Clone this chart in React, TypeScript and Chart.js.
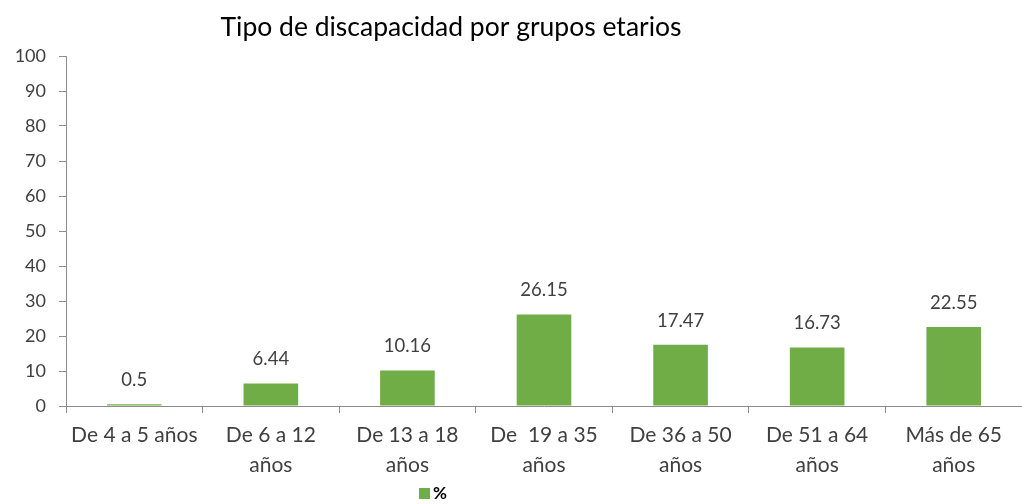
import React, { useEffect, useRef } from "react";
import { Chart, registerables } from "chart.js";

Chart.register(...registerables);

const TITLE = "Tipo de discapacidad por grupos etarios";
const CATEGORIES: (string | string[])[] = [
  "De 4 a 5 años",
  ["De 6 a 12", "años"],
  ["De 13 a 18", "años"],
  ["De  19 a 35", "años"],
  ["De 36 a 50", "años"],
  ["De 51 a 64", "años"],
  ["Más de 65", "años"],
];
const SERIES_NAME = "%";
const VALUES = [0.5, 6.44, 10.16, 26.15, 17.47, 16.73, 22.55];
const VALUE_LABELS = ["0.5", "6.44", "10.16", "26.15", "17.47", "16.73", "22.55"];

const FONT = "Lato, 'Open Sans', sans-serif";
const BAR_COLOR = "#70AD47";
const AXIS_COLOR = "#8c8c8c";
const TEXT_COLOR = "#404040";

export default function App() {
  const ref = useRef<HTMLCanvasElement | null>(null);

  useEffect(() => {
    if (!ref.current) return;
    const decor = {
      id: "decor",
      afterDraw(chart: any) {
        const ctx = chart.ctx;
        ctx.save();
        // title
        ctx.fillStyle = "#000000";
        ctx.font = `26.5px ${FONT}`;
        ctx.textAlign = "center";
        ctx.textBaseline = "middle";
        ctx.fillText(TITLE, 451, 27);
        // data labels
        const meta = chart.getDatasetMeta(0);
        ctx.font = `18.5px ${FONT}`;
        ctx.fillStyle = TEXT_COLOR;
        ctx.textBaseline = "middle";
        meta.data.forEach((bar: any, i: number) => {
          ctx.fillText(VALUE_LABELS[i], bar.x, bar.y - 24);
        });
        // legend
        ctx.fillStyle = BAR_COLOR;
        ctx.fillRect(419, 488, 11, 11);
        ctx.fillStyle = "#000000";
        ctx.font = `bold 17px ${FONT}`;
        ctx.textAlign = "left";
        ctx.fillText(SERIES_NAME, 433, 494);
        ctx.restore();
      },
    };
    const chart = new Chart(ref.current, {
      type: "bar",
      data: {
        labels: CATEGORIES,
        datasets: [
          {
            label: SERIES_NAME,
            data: VALUES,
            backgroundColor: BAR_COLOR,
            barPercentage: 0.4,
            categoryPercentage: 1,
          },
        ],
      },
      options: {
        animation: false,
        responsive: false,
        maintainAspectRatio: false,
        layout: { padding: { top: 56, left: 0, right: 0, bottom: 0 } },
        plugins: {
          legend: { display: false },
          title: { display: false },
          tooltip: { enabled: false },
        },
        scales: {
          x: {
            grid: {
              drawOnChartArea: false,
              drawTicks: true,
              tickLength: 7,
              color: AXIS_COLOR,
              offset: true,
            },
            border: { color: AXIS_COLOR },
            ticks: {
              color: TEXT_COLOR,
              font: { family: FONT, size: 21, lineHeight: 1.45 },
              padding: 7,
              maxRotation: 0,
              autoSkip: false,
            },
            afterFit: (s: any) => {
              s.height = 98;
            },
          },
          y: {
            min: 0,
            max: 100,
            grid: {
              drawOnChartArea: false,
              drawTicks: true,
              tickLength: 7,
              color: AXIS_COLOR,
            },
            border: { color: AXIS_COLOR },
            ticks: {
              stepSize: 10,
              color: TEXT_COLOR,
              font: { family: FONT, size: 18 },
              padding: 13,
            },
            afterFit: (s: any) => {
              s.width = 66;
            },
          },
        },
      },
      plugins: [decor],
    });
    return () => chart.destroy();
  }, []);

  return (
    <div style={{ position: "absolute", left: 0, top: 0, width: 1022, height: 504, background: "#fff" }}>
      <canvas ref={ref} width={1022} height={504} style={{ width: 1022, height: 504 }} />
    </div>
  );
}
